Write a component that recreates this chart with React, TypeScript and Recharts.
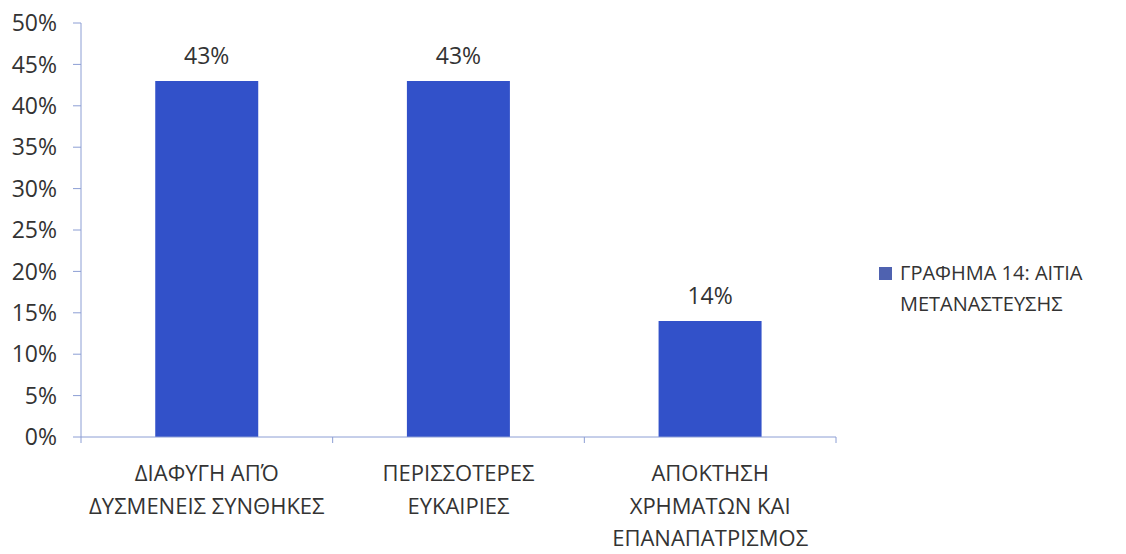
import { BarChart, Bar, XAxis, YAxis, LabelList } from 'recharts'

const categories = ['ΔΙΑΦΥΓΗ ΑΠΌ ΔΥΣΜΕΝΕΙΣ ΣΥΝΘΗΚΕΣ', 'ΠΕΡΙΣΣΟΤΕΡΕΣ ΕΥΚΑΙΡΙΕΣ', 'ΑΠΟΚΤΗΣΗ ΧΡΗΜΑΤΩΝ ΚΑΙ ΕΠΑΝΑΠΑΤΡΙΣΜΟΣ']
const categoryLines = [
  ['ΔΙΑΦΥΓΗ ΑΠΌ', 'ΔΥΣΜΕΝΕΙΣ ΣΥΝΘΗΚΕΣ'],
  ['ΠΕΡΙΣΣΟΤΕΡΕΣ', 'ΕΥΚΑΙΡΙΕΣ'],
  ['ΑΠΟΚΤΗΣΗ', 'ΧΡΗΜΑΤΩΝ ΚΑΙ', 'ΕΠΑΝΑΠΑΤΡΙΣΜΟΣ']
]
const values = [0.43, 0.43, 0.14]
const yTicks = [0, 0.05, 0.1, 0.15, 0.2, 0.25, 0.3, 0.35, 0.4, 0.45, 0.5]
const boundaryTicks = [0, 1, 2, 3]
const seriesName = ['ΓΡΑΦΗΜΑ 14: ΑΙΤΙΑ', 'ΜΕΤΑΝΑΣΤΕΥΣΗΣ']

const data = categories.map((c, i) => ({ name: c, idx: i, value: values[i] }))

const font = '"Open Sans", "Noto Sans", sans-serif'
const textColor = '#333'
const axisColor = '#8c9ed4'
const barColor = '#3251c9'

const pct = (v: number) => `${Math.round(v * 100)}%`

const CategoryTick = (props: any) => {
  const { x, y, index } = props
  const lines = categoryLines[index] || []
  return (
    <text x={x} y={y} textAnchor="middle" fill={textColor} fontSize={22} fontFamily={font}>
      {lines.map((l, i) => (
        <tspan key={i} x={x} dy={i === 0 ? 30 : 32.5}>{l}</tspan>
      ))}
    </text>
  )
}

const EmptyTick = () => <g />

export default function App() {
  return (
    <div style={{ position: 'absolute', left: 0, top: 0, width: 1126, height: 554, background: '#fff' }}>
      <BarChart
        width={1126}
        height={554}
        data={data}
        margin={{ top: 23, right: 290, bottom: 0, left: 0 }}
        barCategoryGap="29.5%"
      >
        <XAxis
          xAxisId="a_edges"
          type="number"
          dataKey="idx"
          domain={[0, 3]}
          ticks={boundaryTicks}
          axisLine={{ stroke: axisColor }}
          tickLine={{ stroke: axisColor }}
          tickSize={6}
          tick={<EmptyTick />}
          height={6}
        />
        <XAxis
          dataKey="name"
          xAxisId="b_cat"
          axisLine={false}
          tickLine={false}
          tick={<CategoryTick />}
          interval={0}
          height={111}
        />
        <YAxis
          width={81}
          domain={[0, 0.5]}
          ticks={yTicks}
          tickFormatter={pct}
          axisLine={{ stroke: axisColor }}
          tickLine={{ stroke: axisColor }}
          tickSize={8}
          tickMargin={16}
          tick={{ fill: textColor, fontSize: 23, fontFamily: font }}
        />
        <Bar xAxisId="b_cat" dataKey="value" fill={barColor} isAnimationActive={false} name={seriesName.join(' ')}>
          <LabelList
            dataKey="value"
            position="top"
            offset={17}
            formatter={(v: any) => pct(Number(v))}
            style={{ fill: textColor, fontSize: 23, fontFamily: font }}
          />
        </Bar>
      </BarChart>
      <div style={{ position: 'absolute', left: 879, top: 257, display: 'flex', alignItems: 'flex-start', fontFamily: font, fontSize: 20, color: textColor, lineHeight: '31px' }}>
        <div style={{ width: 13, height: 13, background: '#4f62b0', marginTop: 10, marginRight: 8, flexShrink: 0 }} />
        <div>
          {seriesName.map((s, i) => <div key={i}>{s}</div>)}
        </div>
      </div>
    </div>
  )
}
